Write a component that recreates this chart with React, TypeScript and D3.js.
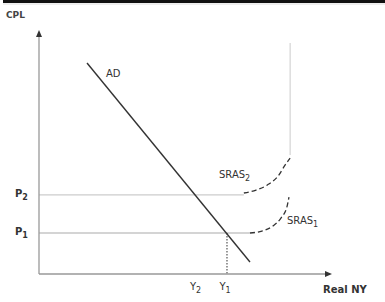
import React from "react";
import * as d3 from "d3";

const W = 385;
const H = 302;

// Economic values (data units: output 0-100, price level 0-100)
const adCurve: [number, number][] = [
  [16.5, 86.5],
  [72.5, 4.9],
];
const priceLevels = [
  { name: "P", sub: "2", value: 32.4, end: 70.4 },
  { name: "P", sub: "1", value: 16.8, end: 72.5 },
];
const outputs = [
  { name: "Y", sub: "2", value: 54.5 },
  { name: "Y", sub: "1", value: 64.6 },
];
const lras = { x: 86.3, yTop: 94.7, yBottom: 48.8 };
const sras2: [number, number][] = [
  [70.4, 33.2],
  [74.6, 34.4],
  [78.5, 36.5],
  [82.2, 40.2],
  [84.6, 44.7],
  [86.3, 47.5],
];
const sras1: [number, number][] = [
  [72.5, 16.8],
  [76.6, 17.6],
  [80.4, 19.7],
  [83.2, 23.0],
  [85.2, 27.5],
  [85.9, 31.5],
];

const xScale = d3.scaleLinear().domain([0, 100]).range([39, 330]);
const yScale = d3.scaleLinear().domain([0, 100]).range([274, 30]);

const line = d3
  .line<[number, number]>()
  .x((d) => xScale(d[0]))
  .y((d) => yScale(d[1]));
const curve = d3
  .line<[number, number]>()
  .x((d) => xScale(d[0]))
  .y((d) => yScale(d[1]))
  .curve(d3.curveMonotoneX);

const font = "'DejaVu Sans', Verdana, sans-serif";

function Sub({ base, sub }: { base: string; sub: string }) {
  return (
    <>
      {base}
      <tspan fontSize={8} dy={3}>
        {sub}
      </tspan>
    </>
  );
}

export default function App() {
  const x0 = xScale(0);
  const y0 = yScale(0);
  const P1 = priceLevels[1].value;
  const Y1 = outputs[1].value;
  return (
    <svg
      width={W}
      height={H}
      style={{ position: "absolute", left: 0, top: 0, background: "#fff" }}
      fontFamily={font}
    >
      <rect x={3} y={0} width={W} height={3} fill="#111" />
      <line x1={3} x2={W} y1={4} y2={4} stroke="#ddd" strokeWidth={1} />

      {/* LRAS vertical */}
      <line
        x1={xScale(lras.x)}
        x2={xScale(lras.x)}
        y1={yScale(lras.yTop)}
        y2={yScale(lras.yBottom)}
        stroke="#d4d4d4"
        strokeWidth={1.2}
      />

      {/* price level lines */}
      {priceLevels.map((p) => (
        <g key={p.sub}>
          <line
            x1={x0}
            x2={xScale(p.end)}
            y1={yScale(p.value)}
            y2={yScale(p.value)}
            stroke={p.sub === "1" ? "#aaa" : "#ccc"}
            strokeWidth={1.2}
          />
          <text
            x={15}
            y={yScale(p.value) + 2}
            fontSize={10}
            fill="#333"
            fontWeight="bold"
          >
            <Sub base={p.name} sub={p.sub} />
          </text>
        </g>
      ))}

      {/* dotted vertical at Y1 */}
      <line
        x1={xScale(Y1)}
        x2={xScale(Y1)}
        y1={yScale(P1)}
        y2={y0}
        stroke="#555"
        strokeWidth={1.2}
        strokeDasharray="1.5,1.5"
      />

      {/* axes */}
      <line x1={x0} x2={x0} y1={y0} y2={34} stroke="#999" strokeWidth={1.3} />
      <path d={`M${x0 - 3},37 L${x0},30 L${x0 + 3},37 Z`} fill="#333" />
      <line x1={x0} x2={327} y1={y0} y2={y0} stroke="#999" strokeWidth={1.3} />
      <path d={`M325,${y0 - 3} L332,${y0} L325,${y0 + 3} Z`} fill="#333" />

      {/* AD */}
      <path d={line(adCurve) || ""} fill="none" stroke="#333" strokeWidth={1.4} />

      {/* SRAS curves */}
      <path
        d={curve(sras2) || ""}
        fill="none"
        stroke="#333"
        strokeWidth={1.3}
        strokeDasharray="5,3"
      />
      <path
        d={curve(sras1) || ""}
        fill="none"
        stroke="#333"
        strokeWidth={1.3}
        strokeDasharray="5,3"
      />

      {/* labels */}
      <text x={6} y={18} fontSize={9} fill="#444" fontWeight="bold">
        CPL
      </text>
      <text x={106} y={77} fontSize={10} fill="#333">
        AD
      </text>
      <text x={219} y={178} fontSize={10} fill="#333">
        <Sub base="SRAS" sub="2" />
      </text>
      <text x={287} y={224} fontSize={10} fill="#333">
        <Sub base="SRAS" sub="1" />
      </text>
      {outputs.map((o) => (
        <text
          key={o.sub}
          x={xScale(o.value) - 2}
          y={290}
          fontSize={10}
          fill="#333"
          textAnchor="middle"
        >
          <Sub base={o.name} sub={o.sub} />
        </text>
      ))}
      <text x={323} y={293} fontSize={10} fill="#333" fontWeight="bold">
        Real NY
      </text>
    </svg>
  );
}
